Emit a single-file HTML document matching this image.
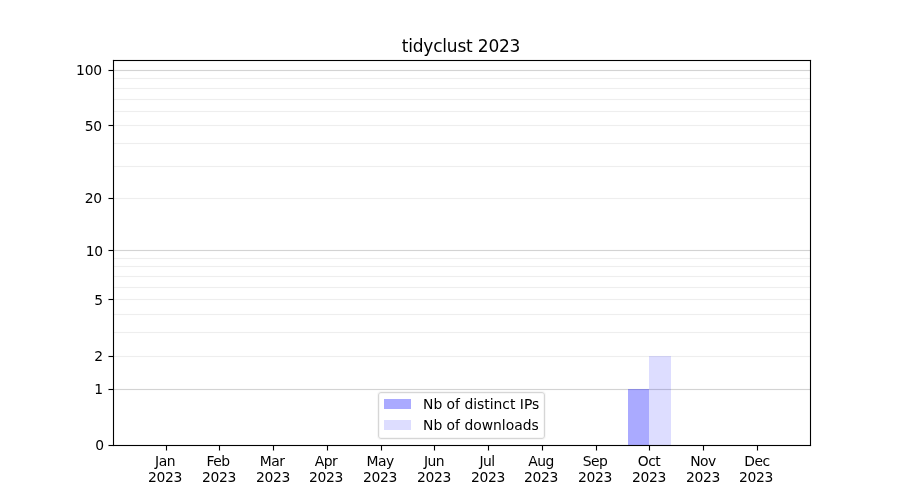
<!DOCTYPE html>
<html lang="en"><head><meta charset="utf-8"><title>tidyclust 2023</title>
<style>
html,body{margin:0;padding:0;background:#fff;}
body{width:900px;height:500px;position:relative;overflow:hidden;
 font-family:"DejaVu Sans","Liberation Sans",sans-serif;color:#000;}
.a{position:absolute;}
.t{position:absolute;white-space:nowrap;font-size:13.889px;line-height:16px;will-change:transform;}
.tt{font-size:16.667px;line-height:20px;width:300px;text-align:center;}
.gM,.gm{position:absolute;left:114px;width:696px;height:1px;background:#d3d3d3;box-shadow:0 -1px 0 rgba(0,0,0,.012),0 1px 0 rgba(0,0,0,.012);}
.gm{background:#eeeeee;box-shadow:0 -1px 0 rgba(0,0,0,.004),0 1px 0 rgba(0,0,0,.004);}
.yk{position:absolute;left:108px;width:5px;height:1px;background:linear-gradient(to right,rgba(0,0,0,.5) 1px,#000 1px);box-shadow:0 -1px 0 rgba(0,0,0,.055),0 1px 0 rgba(0,0,0,.055);}
.xk{position:absolute;top:446px;width:1px;height:5px;background:linear-gradient(to bottom,#000 4px,rgba(0,0,0,.5) 4px);box-shadow:-1px 0 0 rgba(0,0,0,.055),1px 0 0 rgba(0,0,0,.055);}
.yl{text-align:right;width:60px;}
.xl{text-align:center;width:80px;}
.yl{letter-spacing:-0.2px}.mo{letter-spacing:-0.5px}.yr{letter-spacing:-0.3px}
.tt{font-size:17px;letter-spacing:-0.2px}

</style></head><body>
<div class="gM" style="top:70px"></div>
<div class="gm" style="top:78px"></div>
<div class="gm" style="top:88px"></div>
<div class="gm" style="top:99px"></div>
<div class="gm" style="top:111px"></div>
<div class="gm" style="top:125px"></div>
<div class="gm" style="top:143px"></div>
<div class="gm" style="top:166px"></div>
<div class="gm" style="top:198px"></div>
<div class="gM" style="top:250px"></div>
<div class="gm" style="top:258px"></div>
<div class="gm" style="top:266px"></div>
<div class="gm" style="top:276px"></div>
<div class="gm" style="top:287px"></div>
<div class="gm" style="top:299px"></div>
<div class="gm" style="top:314px"></div>
<div class="gm" style="top:332px"></div>
<div class="gm" style="top:356px"></div>
<div class="gM" style="top:389px"></div>
<div class="a" style="left:628px;top:389px;width:21px;height:56px;background:rgba(0,0,255,0.3333)"></div>
<div class="a" style="left:649px;top:356px;width:22px;height:89px;background:rgba(0,0,255,0.1333)"></div>
<div class="a" style="left:113px;top:60px;width:696px;height:384px;border:1px solid #000;box-shadow:0 0 0 1px rgba(0,0,0,0.055),inset 0 0 0 1px rgba(0,0,0,0.055)"></div>
<div class="a" style="left:112px;top:59px;width:1px;height:1px;background:rgba(255,255,255,.86)"></div>
<div class="a" style="left:113px;top:59px;width:1px;height:1px;background:rgba(0,0,0,.058)"></div>
<div class="a" style="left:112px;top:60px;width:1px;height:1px;background:rgba(0,0,0,.058)"></div>
<div class="a" style="left:114px;top:61px;width:1px;height:1px;background:rgba(0,0,0,.058)"></div>
<div class="a" style="left:811px;top:59px;width:1px;height:1px;background:rgba(255,255,255,.86)"></div>
<div class="a" style="left:810px;top:59px;width:1px;height:1px;background:rgba(0,0,0,.058)"></div>
<div class="a" style="left:811px;top:60px;width:1px;height:1px;background:rgba(0,0,0,.058)"></div>
<div class="a" style="left:809px;top:61px;width:1px;height:1px;background:rgba(0,0,0,.058)"></div>
<div class="a" style="left:112px;top:446px;width:1px;height:1px;background:rgba(255,255,255,.86)"></div>
<div class="a" style="left:113px;top:446px;width:1px;height:1px;background:rgba(0,0,0,.058)"></div>
<div class="a" style="left:112px;top:445px;width:1px;height:1px;background:rgba(0,0,0,.058)"></div>
<div class="a" style="left:114px;top:444px;width:1px;height:1px;background:rgba(0,0,0,.058)"></div>
<div class="a" style="left:811px;top:446px;width:1px;height:1px;background:rgba(255,255,255,.86)"></div>
<div class="a" style="left:810px;top:446px;width:1px;height:1px;background:rgba(0,0,0,.058)"></div>
<div class="a" style="left:811px;top:445px;width:1px;height:1px;background:rgba(0,0,0,.058)"></div>
<div class="a" style="left:809px;top:444px;width:1px;height:1px;background:rgba(0,0,0,.058)"></div>
<div class="yk" style="top:70px"></div>
<div class="yk" style="top:125px"></div>
<div class="yk" style="top:198px"></div>
<div class="yk" style="top:250px"></div>
<div class="yk" style="top:299px"></div>
<div class="yk" style="top:356px"></div>
<div class="yk" style="top:389px"></div>
<div class="yk" style="top:445px"></div>
<div class="xk" style="left:166px"></div>
<div class="xk" style="left:219px"></div>
<div class="xk" style="left:273px"></div>
<div class="xk" style="left:327px"></div>
<div class="xk" style="left:381px"></div>
<div class="xk" style="left:434px"></div>
<div class="xk" style="left:488px"></div>
<div class="xk" style="left:542px"></div>
<div class="xk" style="left:596px"></div>
<div class="xk" style="left:649px"></div>
<div class="xk" style="left:703px"></div>
<div class="xk" style="left:757px"></div>
<div class="a" style="left:378px;top:392px;width:165px;height:45px;border:1px solid #d6d6d6;border-radius:3px;background:rgba(255,255,255,.8);box-shadow:0 0 0 1px rgba(0,0,0,0.03),inset 0 0 0 1px rgba(0,0,0,0.03)"></div>
<div class="a" style="left:384px;top:399px;width:27px;height:10px;background:#aaaaff"></div>
<div class="a" style="left:384px;top:420px;width:27px;height:10px;background:#ddddff"></div>
<div class="t yl" style="left:41.55px;top:61.65px;">100</div>
<div class="t yl" style="left:41.55px;top:117.65px;">50</div>
<div class="t yl" style="left:41.55px;top:189.65px;">20</div>
<div class="t yl" style="left:42.55px;top:242.65px;">10</div>
<div class="t yl" style="left:42.55px;top:291.65px;">5</div>
<div class="t yl" style="left:42.55px;top:347.65px;">2</div>
<div class="t yl" style="left:42.55px;top:380.65px;">1</div>
<div class="t yl" style="left:43.55px;top:436.65px;">0</div>
<div class="t xl mo" style="left:124.50px;top:452.70px;">Jan</div>
<div class="t xl yr" style="left:124.50px;top:468.55px;">2023</div>
<div class="t xl mo" style="left:177.50px;top:452.70px;">Feb</div>
<div class="t xl yr" style="left:178.50px;top:468.55px;">2023</div>
<div class="t xl mo" style="left:231.50px;top:452.70px;">Mar</div>
<div class="t xl yr" style="left:232.50px;top:468.55px;">2023</div>
<div class="t xl mo" style="left:285.50px;top:452.70px;">Apr</div>
<div class="t xl yr" style="left:285.50px;top:468.55px;">2023</div>
<div class="t xl mo" style="left:339.50px;top:452.70px;">May</div>
<div class="t xl yr" style="left:339.50px;top:468.55px;">2023</div>
<div class="t xl mo" style="left:393.50px;top:452.70px;">Jun</div>
<div class="t xl yr" style="left:393.50px;top:468.55px;">2023</div>
<div class="t xl mo" style="left:446.50px;top:452.70px;">Jul</div>
<div class="t xl yr" style="left:447.50px;top:468.55px;">2023</div>
<div class="t xl mo" style="left:500.50px;top:452.70px;">Aug</div>
<div class="t xl yr" style="left:500.50px;top:468.55px;">2023</div>
<div class="t xl mo" style="left:554.50px;top:452.70px;">Sep</div>
<div class="t xl yr" style="left:554.50px;top:468.55px;">2023</div>
<div class="t xl mo" style="left:608.50px;top:452.70px;">Oct</div>
<div class="t xl yr" style="left:608.50px;top:468.55px;">2023</div>
<div class="t xl mo" style="left:662.50px;top:452.70px;">Nov</div>
<div class="t xl yr" style="left:662.50px;top:468.55px;">2023</div>
<div class="t xl mo" style="left:716.50px;top:452.70px;">Dec</div>
<div class="t xl yr" style="left:715.50px;top:468.55px;">2023</div>
<div class="t tt" style="left:310.50px;top:35.55px;">tidyclust 2023</div>
<div class="t lg" style="left:422.65px;top:395.65px;">Nb of distinct IPs</div>
<div class="t lg" style="left:422.65px;top:416.70px;">Nb of downloads</div>
</body></html>
